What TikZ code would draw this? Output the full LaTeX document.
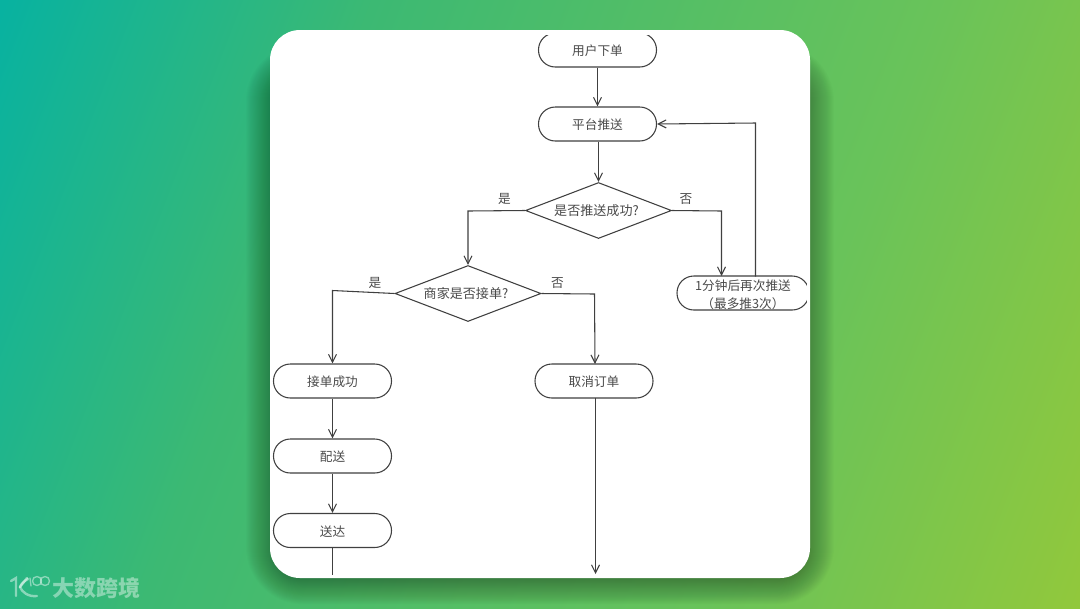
\documentclass[tikz,border=0pt]{standalone}
\usepackage{fontspec}
\setmainfont{Noto Sans CJK SC}
\usetikzlibrary{arrows.meta,shapes.geometric,calc}
\definecolor{ink}{HTML}{404040}
\definecolor{label}{HTML}{4A4A4A}
\definecolor{gA}{RGB}{8,178,160}
\definecolor{gB}{RGB}{60,185,115}
\definecolor{gC}{RGB}{105,195,90}
\definecolor{gD}{RGB}{145,200,60}
\pgfdeclarehorizontalshading{bggrad}{100bp}{color(0bp)=(gA); color(17.7bp)=(gA); color(36bp)=(gB); color(64bp)=(gC); color(82.3bp)=(gD); color(100bp)=(gD)}
\newcommand{\lowerstrut}{\rule{0pt}{9.6pt}}
\newcommand{\lowerstrutb}{\rule{0pt}{10.4pt}}
\tikzset{
  x=0.75pt,y=-0.75pt,
  pill/.style={draw=ink,line width=0.8pt,rounded corners=12.6pt,fill=white,text=label,font=\fontsize{9.5}{13.5}\selectfont,minimum width=88.5pt,minimum height=25.5pt,inner sep=0pt,align=center},
  choice/.style={draw=ink,line width=0.8pt,diamond,aspect=2.62,fill=white,text=label,font=\fontsize{9.8}{11}\selectfont,inner sep=0pt,minimum width=109.5pt,minimum height=42pt,align=center},
  flow/.style={draw=ink,line width=0.8pt,-{Straight Barb[length=6pt,width=6pt,line width=0.8pt]}},
  plainflow/.style={draw=ink,line width=0.8pt},
  tag/.style={text=label,font=\fontsize{9.5}{11}\selectfont,inner sep=0pt},
  logotext/.style={text=white,opacity=0.42,font=\fontsize{16.5}{18}\selectfont\bfseries,inner sep=0pt,anchor=west},
  logostroke/.style={draw=white,opacity=0.45,line width=1.8pt,line cap=round},
  logothin/.style={draw=white,opacity=0.45,line width=1pt,line cap=round},
}
\begin{document}
\begin{tikzpicture}
\useasboundingbox (0,0) rectangle (1080,608);
% background
\begin{scope}
\clip (0,0) rectangle (1080,608);
\shade[shading=bggrad,shading angle=-21] (0,0) rectangle (1080,608);
% card shadow
\foreach \g in {4,...,36}{
  \fill[black,opacity=0.010,rounded corners=16pt+\g*0.75pt] (282-\g,80-\g) rectangle (798+\g,572+\g*0.9);
}
\end{scope}
\fill[white,rounded corners=22.5pt] (270,30) rectangle (810,578);
% nodes
\node[pill] (order) at (597.5,50) {\lowerstrut 用户下单};
\node[pill] (push) at (597.5,124) {\lowerstrut 平台推送};
\node[choice] (pushed) at (598.5,210.5) {是否推送成功?\hspace{3pt}};
\node[pill,minimum width=99pt] (retry) at (743,293) {\lowerstrutb 1分钟后再次推送\\（最多推3次）};
\node[choice] (accept) at (468,293.5) {商家是否接单?\hspace{3pt}};
\node[pill] (ok) at (332.5,381) {\lowerstrut 接单成功};
\node[pill] (cancel) at (594,381) {\lowerstrut 取消订单};
\node[pill] (deliver) at (332.5,456) {\lowerstrut 配送};
\node[pill] (arrive) at (332.5,530.5) {\lowerstrut 送达};
% the reference crops the top pill's upper edge and the retry pill's right end
\fill[white] (530,30.5) rectangle (670,34.5);
\fill[white] (806.5,282) rectangle (810,304);
% free ends
\coordinate (okend) at (332.5,575);
\coordinate (cancelend) at (595.5,574);
% connectors
\draw[flow] (order) -- (push);
\draw[flow] (push.south -| pushed.north) -- (pushed.north);
\draw[flow] (pushed.west) -- (468,211) -- (accept.north);
\draw[flow] (pushed.east) -- (721.5,211) -- (721.5,276);
\draw[flow] (755.5,276.5) -- (755.5,123) -- (push.east);
\draw[flow] (accept.west) -- (332.5,290.5) -- (ok.north);
\draw[flow] (accept.east) -- (594.5,294) -- (595,364);
\draw[flow] (ok) -- (deliver);
\draw[flow] (deliver) -- (arrive);
\draw[plainflow] (arrive) -- (okend);
\draw[flow] (595.5,397.5) -- (cancelend);
% labels
\node[tag] (yes1) at (504.5,199) {是};
\node[tag] (no1) at (686,199) {否};
\node[tag] (yes2) at (375,283) {是};
\node[tag] (no2) at (557.5,283) {否};
% logo
\node[logotext] (brand) at (52,588) {大数跨境};
\draw[logostroke] (11,581) -- (16,578) -- (16,596);
\draw[logostroke] (28,579) .. controls (24,581) and (21,584) .. (20,587) .. controls (22,592) and (28,597) .. (37,596);
\draw[logostroke] (20,587) -- (27,578);
\draw[logothin] (30,578) -- (31,586);
\draw[logothin] (37,581) circle (4.5);
\draw[logothin] (45,581) circle (4.5);
\end{tikzpicture}
\end{document}
